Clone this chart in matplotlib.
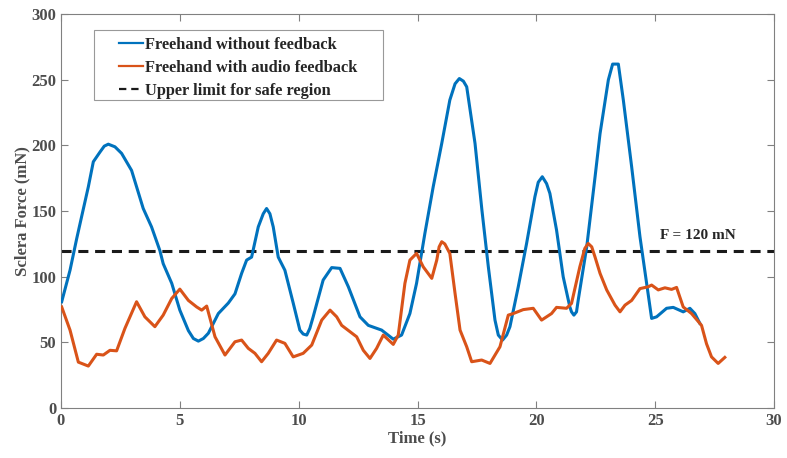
import matplotlib
matplotlib.use("Agg")
import matplotlib.pyplot as plt
from matplotlib.patches import Rectangle

# Freehand without feedback (blue)
t_blue = [0.03, 0.38, 0.66, 0.87, 1.15, 1.36, 1.64, 1.82, 1.99, 2.27, 2.55, 2.97, 3.46, 3.81, 4.16,
          4.30, 4.66, 5.0, 5.36, 5.57, 5.78, 5.99, 6.2, 6.62, 7.04, 7.32, 7.6, 7.81, 8.02, 8.3,
          8.51, 8.65, 8.79, 8.93, 9.14, 9.42, 9.77, 10.05, 10.19, 10.34, 10.47, 10.61, 11.03,
          11.39, 11.74, 12.09, 12.58, 12.93, 13.49, 13.98, 14.33, 14.68, 14.96, 15.31, 15.66,
          16.02, 16.36, 16.58, 16.76, 16.93, 17.07, 17.42, 17.71, 17.98, 18.26, 18.4, 18.58,
          18.75, 18.89, 19.24, 19.59, 19.94, 20.08, 20.25, 20.43, 20.57, 20.85, 21.13, 21.41,
          21.48, 21.58, 21.69, 21.76, 22.12, 22.47, 22.68, 23.03, 23.21, 23.45, 23.66, 24.01,
          24.36, 24.64, 24.85, 25.06, 25.48, 25.76, 26.18, 26.46, 26.67, 26.88]
f_blue = [81, 105, 129, 146, 168.5, 187.6, 195, 199.5, 201, 199, 194, 181, 152, 138, 120,
          110, 95, 74.6, 59, 53, 51, 53, 57, 72, 80, 87, 102.6, 112.7, 115, 138,
          148, 152, 148, 138, 115, 105, 80, 59.4, 56.4, 55.6, 60.7, 69.5, 97.5,
          107, 106.4, 92.4, 69.5, 63, 59.4, 52.5, 55.6, 72, 95, 133, 168.5,
          201.6, 234.6, 247, 251, 249, 244.7, 201.6, 150.8, 107.6, 67, 55.6, 51.8,
          55.6, 62, 92.4, 125.4, 161, 172, 176.2, 171, 163.5, 135.6, 100, 77,
          73.3, 70.8, 73.3, 82, 122.8, 176, 209, 250, 262, 262, 234.6, 183.8,
          130.5, 95, 68.3, 69.5, 76, 76.7, 73.3, 76, 72, 64.5]

# Freehand with audio feedback (orange)
t_orange = [0.03, 0.38, 0.73, 1.15, 1.50, 1.78, 2.06, 2.34, 2.69, 3.18, 3.53, 3.95, 4.30, 4.66,
            5.0, 5.36, 5.71, 5.92, 6.13, 6.48, 6.90, 7.32, 7.6, 7.88, 8.16, 8.44, 8.72, 9.07,
            9.42, 9.77, 10.19, 10.55, 10.97, 11.32, 11.6, 11.81, 12.44, 12.72, 13.0, 13.28,
            13.56, 13.98, 14.19, 14.47, 14.68, 14.96, 15.24, 15.6, 15.81, 15.91, 16.02, 16.15,
            16.36, 16.58, 16.79, 17.07, 17.28, 17.70, 18.05, 18.47, 18.82, 19.03, 19.45, 19.87,
            20.22, 20.64, 20.85, 21.27, 21.48, 21.83, 22.04, 22.18, 22.33, 22.47, 22.68, 22.96,
            23.31, 23.52, 23.73, 24.01, 24.36, 24.71, 24.85, 25.13, 25.41, 25.69, 25.90, 26.18,
            26.53, 26.95, 27.16, 27.37, 27.65, 27.93]
f_orange = [77, 59.4, 35, 32, 41, 40.4, 44, 43.6, 60.7, 81, 69.5, 62, 70.8, 83.5,
            90.6, 82, 77, 74.6, 77.7, 54.3, 40.4, 50.5, 51.8, 45.5, 41.7, 35.3, 41.7, 51.8,
            49.3, 39, 41.7, 48, 67, 74.6, 69.5, 63, 54.3, 44, 37.8, 45.5,
            55.6, 48.5, 55.6, 95, 112.7, 117.8, 107.6, 98.8, 112.7, 122.8, 126.7, 125,
            117.8, 87.3, 59.4, 46.7, 35.3, 36.6, 34, 46.7, 70.8, 72, 75, 76,
            67, 72, 76.7, 76, 79.7, 107.6, 121.6, 125.4, 122.8, 115, 102.6, 90,
            78.4, 73.3, 78.4, 82, 91, 92.4, 93.7, 90, 91.6, 90.4, 91.9, 77,
            72, 63, 49, 39, 34, 38.6]

limit_value = 120
x_ticks = [0, 5, 10, 15, 20, 25, 30]
y_ticks = [0, 50, 100, 150, 200, 250, 300]

plt.rcParams['font.family'] = ['Liberation Serif', 'DejaVu Serif']
plt.rcParams['font.weight'] = 'bold'

fig = plt.figure(figsize=(7.87, 4.58), dpi=100)
ax = fig.add_axes([0.0775, 0.109, 0.906, 0.860])

blue = '#0072BD'
orange = '#D95319'
ax.plot(t_blue, f_blue, color=blue, lw=2.2, label='Freehand without feedback', zorder=3,
        solid_joinstyle='round')
ax.plot(t_orange, f_orange, color=orange, lw=2.2, label='Freehand with audio feedback', zorder=4,
        solid_joinstyle='round')
ax.axhline(limit_value, color='#1a1a1a', lw=2.2, dashes=(3.3, 2.2),
           label='Upper limit for safe region', zorder=2)

ax.text(26.8, 126.5, 'F = 120 mN', ha='center', va='bottom', fontsize=11,
        fontweight='bold', color='#262626')

ax.set_xlim(0, 30)
ax.set_ylim(0, 300)
ax.set_xticks(x_ticks)
ax.set_yticks(y_ticks)

gray = '#808080'
for s in ax.spines.values():
    s.set_color(gray)
    s.set_linewidth(0.8)
ax.tick_params(direction='in', top=True, right=True, color=gray, length=5,
               labelsize=12, labelcolor='#4d4d4d', width=0.8)
for lab in ax.get_xticklabels() + ax.get_yticklabels():
    lab.set_fontweight('bold')

ax.set_xlabel('Time (s)', fontsize=12, fontweight='bold', color='#4d4d4d', labelpad=1)
ax.set_ylabel('Sclera Force (mN)', fontsize=12, fontweight='bold', color='#4d4d4d', labelpad=0.5)

# legend box
ax.add_patch(Rectangle((0.0463, 0.782), 0.4053, 0.177, transform=ax.transAxes,
                       facecolor='white', edgecolor='#999999', lw=0.8, zorder=5))
leg = ax.legend(loc='upper left', bbox_to_anchor=(0.070, 0.963), frameon=False,
                borderpad=0, handlelength=1.45, handletextpad=0.15, labelspacing=0.42,
                prop={'weight': 'bold', 'size': 11.8})
leg.set_zorder(6)
for txt in leg.get_texts():
    txt.set_color('#262626')
for h in leg.get_lines():
    h.set_linewidth(1.6)

fig.savefig('out.png', dpi=100)
